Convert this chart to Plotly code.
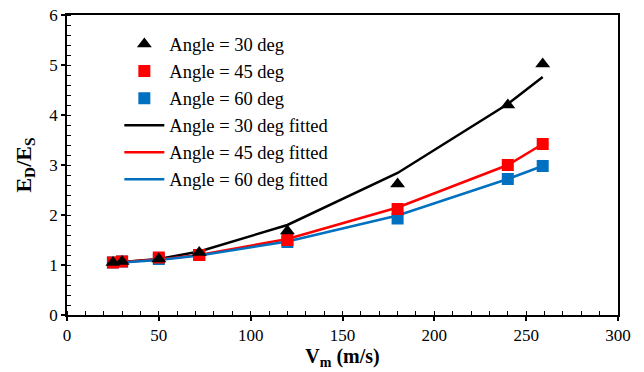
import plotly.graph_objects as go

vm = [25, 30, 50, 72, 120, 180, 240, 259]

# measured
ang30 = [1.05, 1.07, 1.12, 1.25, 1.68, 2.62, 4.20, 5.02]
ang45 = [1.05, 1.07, 1.15, 1.20, 1.50, 2.12, 3.00, 3.42]
ang60 = [1.05, 1.07, 1.12, 1.20, 1.46, 1.93, 2.72, 2.98]

# fitted
fit30 = [1.04, 1.06, 1.12, 1.27, 1.80, 2.84, 4.22, 4.76]
fit45 = [1.04, 1.06, 1.11, 1.20, 1.52, 2.15, 3.00, 3.42]
fit60 = [1.03, 1.05, 1.10, 1.19, 1.47, 1.99, 2.72, 2.98]

BLACK = "#000000"
RED = "#FF0000"
BLUE = "#0070C0"

fig = go.Figure()

for name, ys, col, rank in [
    ("Angle = 30 deg fitted", fit30, BLACK, 4),
    ("Angle = 45 deg fitted", fit45, RED, 5),
    ("Angle = 60 deg fitted", fit60, BLUE, 6),
]:
    fig.add_trace(go.Scatter(x=vm, y=ys, mode="lines", name=name,
                             line=dict(color=col, width=2.5), legendrank=rank))

for name, ys, col, sym, size, rank in [
    ("Angle = 60 deg", ang60, BLUE, "square", 12, 3),
    ("Angle = 45 deg", ang45, RED, "square", 12, 2),
    ("Angle = 30 deg", ang30, BLACK, "triangle-up", 13, 1),
]:
    fig.add_trace(go.Scatter(x=vm, y=ys, mode="markers", name=name,
                             marker=dict(color=col, symbol=sym, size=size, line=dict(width=0)),
                             legendrank=rank))

FAM = "Liberation Serif, Times New Roman, serif"
tick_font = dict(family=FAM, size=17, color="black")
xtitle_font = dict(family=FAM, size=20, color="black")
ytitle_font = dict(family=FAM, size=22, color="black")

fig.update_layout(
    width=644, height=372,
    margin=dict(l=67, r=26, t=15, b=57),
    paper_bgcolor="white", plot_bgcolor="white",
    font=tick_font,
    showlegend=True,
    legend=dict(x=0.095, y=0.965, xanchor="left", yanchor="top",
                bgcolor="rgba(0,0,0,0)", font=dict(family=FAM, size=18.5, color="black"),
                tracegroupgap=0, itemwidth=40, traceorder="normal"),
    xaxis=dict(range=[0, 300], dtick=50, tick0=0, showgrid=False, zeroline=False,
               automargin=False,
               showline=True, linecolor="black", linewidth=1.5, mirror=True,
               ticks="outside", ticklen=4, tickwidth=1.5, tickcolor="black",
               minor=dict(dtick=10, ticks="inside", ticklen=4, tickwidth=1, tickcolor="black"),
               tickfont=tick_font,
               title=dict(text="<b>V<sub>m</sub> (m/s)</b>", font=xtitle_font, standoff=4)),
    yaxis=dict(range=[0, 6], dtick=1, tick0=0, showgrid=False, zeroline=False,
               automargin=False,
               showline=True, linecolor="black", linewidth=1.5, mirror=True,
               ticks="outside", ticklen=4, tickwidth=1.5, tickcolor="black",
               minor=dict(dtick=0.2, ticks="inside", ticklen=4, tickwidth=1, tickcolor="black"),
               tickfont=tick_font,
               title=dict(text="<b>E<sub>D</sub>/E<sub>S</sub></b>", font=ytitle_font, standoff=12)),
)

fig.write_html("out.html", config={"displayModeBar": False},
               post_script="document.body.style.margin='0px';")
